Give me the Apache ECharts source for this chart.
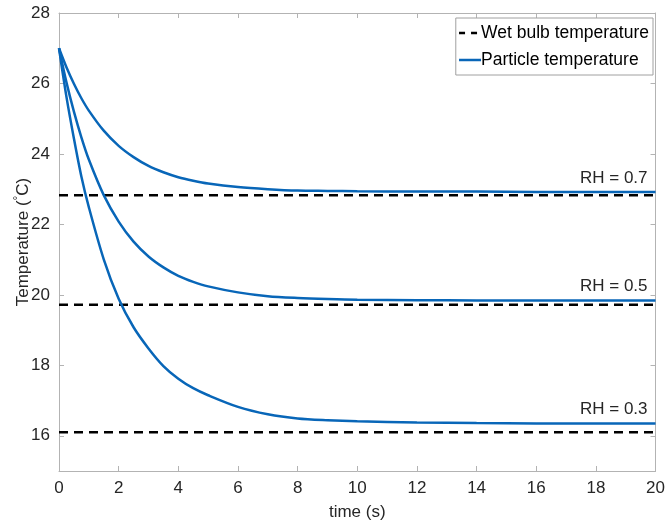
<!DOCTYPE html>
<html>
<head>
<meta charset="utf-8">
<script src="https://cdn.jsdelivr.net/npm/echarts@6/dist/echarts.min.js"></script>
<style>
  html, body { margin: 0; padding: 0; background: #fff; }
  #chart { width: 668px; height: 528px; }
</style>
</head>
<body>
<div id="chart"></div>
<script>
// Time axis samples (s)
const time = [0, 0.25, 0.5, 0.75, 1, 1.5, 2, 2.5, 3, 3.5, 4, 4.5, 5, 6, 7, 8, 9, 10, 12, 14, 16, 18, 20];

// Particle temperature (°C) for each relative humidity
const particleRH07 = [27.00, 26.46, 25.99, 25.58, 25.23, 24.66, 24.23, 23.91, 23.66, 23.48, 23.34, 23.24, 23.16, 23.06, 23.00, 22.96, 22.95, 22.94, 22.93, 22.93, 22.92, 22.92, 22.92];
const particleRH05 = [27.00, 26.03, 25.20, 24.47, 23.84, 22.83, 22.08, 21.51, 21.09, 20.78, 20.54, 20.37, 20.24, 20.07, 19.96, 19.91, 19.88, 19.86, 19.85, 19.84, 19.84, 19.84, 19.84];
const particleRH03 = [27.00, 25.62, 24.44, 23.36, 22.49, 21.01, 19.89, 19.08, 18.48, 17.98, 17.62, 17.35, 17.15, 16.82, 16.61, 16.49, 16.44, 16.41, 16.38, 16.36, 16.35, 16.35, 16.35];

// Wet bulb temperature (°C) for each relative humidity
const rhLabels = ['RH = 0.7', 'RH = 0.5', 'RH = 0.3'];
const wetBulb = [22.83, 19.72, 16.10];

// Axis ticks
const xTicks = [0, 2, 4, 6, 8, 10, 12, 14, 16, 18, 20];
const yTicks = [16, 18, 20, 22, 24, 26, 28];

const FONT = 'Liberation Sans, Arial, sans-serif';
const TEXT = '#262626';
const AXIS = '#b3b3b3';
const BLUE = '#0866b8';

const particleSets = [particleRH07, particleRH05, particleRH03];

const wetSeries = wetBulb.map(v => ({
  name: 'Wet bulb temperature',
  type: 'line',
  symbol: 'none',
  silent: true,
  data: [[time[0], v], [time[time.length - 1], v]],
  lineStyle: { color: '#000', width: 2.5, type: [9, 6] },
  itemStyle: { color: '#000' },
  z: 2
}));

const particleSeries = particleSets.map((vals, k) => ({
  name: 'Particle temperature',
  type: 'line',
  symbol: 'none',
  smooth: 0.3,
  silent: true,
  data: vals.map((v, i) => [time[i], v]),
  lineStyle: { color: BLUE, width: 2.5 },
  itemStyle: { color: BLUE },
  z: 3,
  markPoint: {
    symbol: 'circle',
    symbolSize: 0,
    silent: true,
    data: [{ coord: [time[time.length - 1], vals[vals.length - 1]] }],
    label: {
      show: true,
      formatter: rhLabels[k],
      position: 'left',
      distance: 8,
      offset: [0, -14],
      color: TEXT,
      fontFamily: FONT,
      fontSize: 17
    }
  }
}));

const tickCommon = { show: true, inside: true, length: 5, lineStyle: { color: AXIS } };

const option = {
  animation: false,
  backgroundColor: '#fff',
  grid: { left: 59, right: 12, top: 13, bottom: 57, containLabel: false },
  legend: {
    data: [
      { name: 'Wet bulb temperature', itemStyle: { opacity: 0 }, lineStyle: { color: '#000', width: 2.5, type: [6, 6] } },
      { name: 'Particle temperature', itemStyle: { opacity: 0 }, lineStyle: { color: BLUE, width: 2.5, type: 'solid' } }
    ],
    orient: 'vertical',
    right: 15,
    top: 18,
    itemWidth: 22,
    itemHeight: 14,
    itemGap: 9,
    padding: [6, 4, 6, 2],
    borderColor: '#a0a0a0',
    borderWidth: 1,
    backgroundColor: '#fff',
    textStyle: { color: '#000', fontFamily: FONT, fontSize: 17.5, padding: [0, 0, 0, -5] },
    selectedMode: false
  },
  xAxis: [
    {
      type: 'value', min: 0, max: 20, interval: 2, position: 'bottom',
      name: 'time (s)', nameLocation: 'middle', nameGap: 33, nameMoveOverlap: false,
      nameTextStyle: { color: TEXT, fontFamily: FONT, fontSize: 17 },
      axisLine: { show: true, lineStyle: { color: AXIS, width: 1 } },
      axisTick: Object.assign({ customValues: xTicks }, tickCommon),
      axisLabel: { customValues: xTicks, color: TEXT, fontFamily: FONT, fontSize: 17, margin: 9 },
      splitLine: { show: false }
    },
    {
      type: 'value', min: 0, max: 20, interval: 2, position: 'top',
      axisLine: { show: true, onZero: false, lineStyle: { color: AXIS, width: 1 } },
      axisTick: Object.assign({ customValues: xTicks }, tickCommon),
      axisLabel: { show: false },
      splitLine: { show: false }
    }
  ],
  yAxis: [
    {
      type: 'value', min: 15, max: 28, interval: 1, position: 'left',
      name: '{a|Temperature (}{s|°}{a|C)}', nameLocation: 'middle', nameGap: 26, nameRotate: 90,
      nameMoveOverlap: false,
      nameTextStyle: {
        color: TEXT, fontFamily: FONT, fontSize: 17,
        rich: {
          a: { color: TEXT, fontFamily: FONT, fontSize: 17 },
          s: { color: TEXT, fontFamily: FONT, fontSize: 12, verticalAlign: 'top', padding: [0, 0, 8, 0] }
        }
      },
      axisLine: { show: true, lineStyle: { color: AXIS, width: 1 } },
      axisTick: Object.assign({ customValues: yTicks }, tickCommon),
      axisLabel: { customValues: yTicks, color: TEXT, fontFamily: FONT, fontSize: 17, margin: 9 },
      splitLine: { show: false }
    },
    {
      type: 'value', min: 15, max: 28, interval: 1, position: 'right',
      axisLine: { show: true, onZero: false, lineStyle: { color: AXIS, width: 1 } },
      axisTick: Object.assign({ customValues: yTicks }, tickCommon),
      axisLabel: { show: false },
      splitLine: { show: false }
    }
  ],
  series: wetSeries.concat(particleSeries)
};

const chart = echarts.init(document.getElementById('chart'), null, { renderer: 'canvas' });
chart.setOption(option);
</script>
</body>
</html>
